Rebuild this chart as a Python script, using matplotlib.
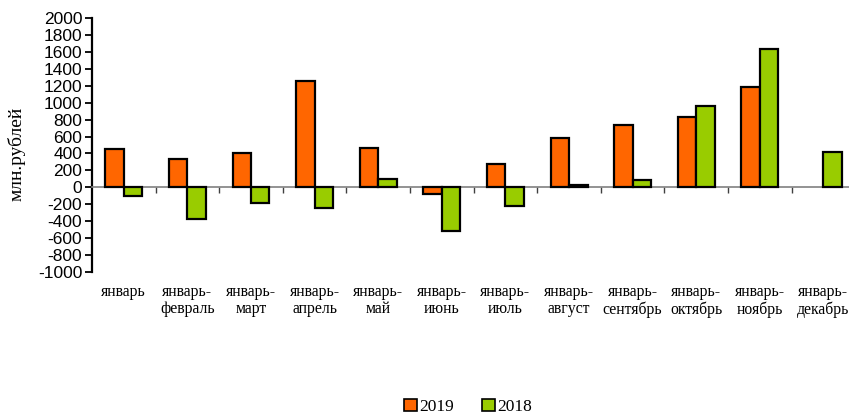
import numpy as np
import matplotlib
matplotlib.use('Agg')
from matplotlib import pyplot as plt
from matplotlib.transforms import blended_transform_factory
from matplotlib.patches import Patch

periods = ['январь', 'январь-\nфевраль', 'январь-\nмарт', 'январь-\nапрель', 'январь-\nмай',
           'январь-\nиюнь', 'январь-\nиюль', 'январь-\nавгуст', 'январь-\nсентябрь',
           'январь-\nоктябрь', 'январь-\nноябрь', 'январь-\nдекабрь']
y2019 = [455, 340, 410, 1250, 470, -80, 280, 580, 730, 835, 1185, 0]
y2018 = [-100, -370, -190, -240, 100, -520, -220, 25, 90, 955, 1635, 415]
yticks = list(range(-1000, 2001, 200))

fig = plt.figure(figsize=(8.49, 4.16), dpi=100)
ax = fig.add_axes([0.1084, 0.346, 0.899, 0.611])

x = np.arange(len(periods))
w = 0.29
ax.bar(x[:-1] - w / 2, y2019[:-1], w, color='#FF6600', edgecolor='black', linewidth=1.6, zorder=3)
ax.bar(x + w / 2, y2018, w, color='#99CC00', edgecolor='black', linewidth=1.6, zorder=3)

ax.set_xlim(-0.5, len(periods) - 0.5)
ax.set_ylim(-1000, 2000)
ax.set_yticks(yticks)
ax.set_yticklabels([str(v) for v in yticks], family='Liberation Sans', fontsize=12.5)
ax.tick_params(axis='y', direction='out', length=5, width=1.3, pad=2)

ax.spines['top'].set_visible(False)
ax.spines['right'].set_visible(False)
ax.spines['left'].set_linewidth(1.6)
ax.spines['bottom'].set_position(('data', 0))
ax.spines['bottom'].set_color('#808080')
ax.spines['bottom'].set_linewidth(1.2)
ax.set_xticks(np.arange(len(periods)) + 0.5)
ax.set_xticklabels([])
ax.tick_params(axis='x', direction='out', length=4, width=1, color='#404040')

tr = blended_transform_factory(ax.transData, ax.transAxes)
for i, lab in enumerate(periods):
    ax.text(i, -0.047, lab, transform=tr, ha='center', va='top',
            family='Liberation Serif', fontsize=11.3, linespacing=1.1)

fig.text(17 / 849, 1 - 154 / 416, 'млн.рублей', rotation=90, ha='center', va='center',
         family='Liberation Serif', fontsize=14)

handles = [Patch(facecolor='#FF6600', edgecolor='black', linewidth=1.2, label='2019'),
           Patch(facecolor='#99CC00', edgecolor='black', linewidth=1.2, label='2018')]
fig.legend(handles=handles, loc='center', bbox_to_anchor=(0.551, 0.022), ncol=2, frameon=False,
           prop={'family': 'Liberation Serif', 'size': 12.5}, handlelength=0.75, handleheight=0.75,
           handletextpad=0.15, columnspacing=1.6)

plt.savefig('out.png', dpi=100)
